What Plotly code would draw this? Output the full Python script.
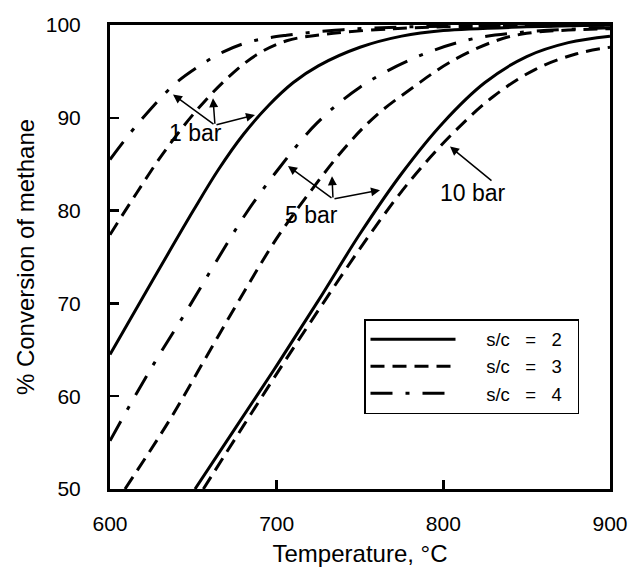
import plotly.graph_objects as go

# ---- data ----
# 1 bar
t_1bar_sc2 = [600, 625, 650, 665, 680, 695, 710, 725, 750, 775, 800, 850, 900]
y_1bar_sc2 = [64.5, 72.3, 80.0, 84.4, 88.2, 91.3, 93.8, 95.6, 97.6, 98.8, 99.4, 99.8, 100]
t_1bar_sc3 = [600, 616, 632, 651, 670, 688, 706, 734, 770, 800, 850, 900]
y_1bar_sc3 = [77.4, 81.9, 86.2, 90.6, 94.2, 96.8, 98.3, 99.1, 99.6, 99.8, 99.9, 100]
t_1bar_sc4 = [600, 616, 638, 652, 668, 684, 706, 740, 780, 850, 900]
y_1bar_sc4 = [85.5, 89.2, 93.5, 95.4, 97.1, 98.2, 98.9, 99.5, 99.8, 99.9, 100]
# 5 bar
t_5bar_sc2 = [651, 675, 700, 725, 750, 775, 800, 825, 850, 875, 900]
y_5bar_sc2 = [50, 56.5, 63.3, 70.3, 77.5, 84.0, 89.5, 93.8, 96.6, 98.1, 98.8]
t_5bar_sc3 = [609, 636, 657, 678, 700, 720, 742, 760, 782, 804, 830, 850, 900]
y_5bar_sc3 = [50, 57.5, 64.0, 70.5, 77.0, 82.0, 87.0, 90.3, 93.3, 96.0, 98.2, 99.1, 99.6]
t_5bar_sc4 = [600, 624, 647, 664, 682, 702, 724, 750, 782, 815, 846, 900]
y_5bar_sc4 = [55.2, 62.8, 69.5, 74.6, 79.8, 84.7, 89.4, 93.3, 96.4, 98.4, 99.2, 99.7]
# 10 bar
t_10bar_sc3 = [656, 680, 705, 730, 755, 780, 805, 830, 855, 880, 900]
y_10bar_sc3 = [50, 56.8, 63.8, 70.6, 77.2, 83.2, 88.2, 92.3, 95.2, 96.9, 97.6]

legend_names = ["s/c   =   2", "s/c   =   3", "s/c   =   4"]
x_ticks = [600, 700, 800, 900]
y_ticks = [50, 60, 70, 80, 90, 100]

# annotation labels and arrows: (label, label_x, label_y, tail_x, tail_y, heads)
labels = [
    ("1 bar", 651, 88.4, 663, 89.2, [(637.8, 92.5), (661.8, 92.1), (687, 90.3)]),
    ("5 bar", 721, 79.5, 733.8, 81.25, [(706.8, 84.8), (733.2, 83.7), (762, 82.2)]),
    ("10 bar", 818, 81.9, 829.8, 83.1, [(804, 86.9)]),
]

DASH = {"solid": "solid", "dash": "14px,8px", "dashdot": "22px,13px,4px,13px"}
FONT = "Liberation Sans, Arial, Helvetica, sans-serif"
PAD = "\u00a0" * 5

series = [
    (t_1bar_sc2, y_1bar_sc2, "solid", legend_names[0], True),
    (t_1bar_sc3, y_1bar_sc3, "dash", legend_names[1], True),
    (t_1bar_sc4, y_1bar_sc4, "dashdot", legend_names[2], True),
    (t_5bar_sc2, y_5bar_sc2, "solid", legend_names[0], False),
    (t_5bar_sc3, y_5bar_sc3, "dash", legend_names[1], False),
    (t_5bar_sc4, y_5bar_sc4, "dashdot", legend_names[2], False),
    (t_10bar_sc3, y_10bar_sc3, "dash", legend_names[1], False),
]

fig = go.Figure()
for t, y, style, name, show in series:
    fig.add_trace(go.Scatter(
        x=t, y=y, mode="lines", name=PAD + name + "\u00a0\u00a0", showlegend=show,
        line=dict(color="black", width=3, dash=DASH[style], shape="spline", smoothing=1.0),
        hoverinfo="skip",
    ))

annotations = []
for text, lx, ly, tx, ty, heads in labels:
    annotations.append(dict(x=lx, y=ly, xref="x", yref="y", text=text, showarrow=False,
                            font=dict(size=23, color="black", family=FONT)))
    for hx, hy in heads:
        annotations.append(dict(x=hx, y=hy, ax=tx, ay=ty, xref="x", yref="y",
                                axref="x", ayref="y", text="", showarrow=True,
                                arrowhead=2, arrowsize=1.2, arrowwidth=1.5,
                                arrowcolor="black", standoff=0, startstandoff=0))

fig.update_layout(
    width=632, height=571,
    margin=dict(l=110, r=22, t=25, b=82),
    paper_bgcolor="white", plot_bgcolor="white",
    font=dict(family=FONT, color="black", size=21),
    annotations=annotations,
    legend=dict(x=0.508, y=0.366, xanchor="left", yanchor="top",
                bordercolor="black", borderwidth=1.5, bgcolor="white",
                font=dict(size=18.5, family=FONT, color="black"),
                itemwidth=85, traceorder="normal"),
    xaxis=dict(range=[600, 900], tickvals=x_ticks, ticktext=[str(v) for v in x_ticks],
               showgrid=False, zeroline=False, showline=True, linecolor="black",
               linewidth=3, mirror=True, ticks="inside", ticklen=9, tickwidth=2.5,
               tickcolor="black", ticklabelstandoff=14, automargin=False,
               title=dict(text="Temperature, °C", font=dict(size=24), standoff=11)),
    yaxis=dict(range=[50, 100], tickvals=y_ticks, ticktext=[str(v) for v in y_ticks],
               showgrid=False, zeroline=False, showline=True, linecolor="black",
               linewidth=3, mirror=True, ticks="inside", ticklen=9, tickwidth=2.5,
               tickcolor="black", ticklabelstandoff=22, automargin=False,
               title=dict(text="% Conversion of methane", font=dict(size=24), standoff=5)),
)

fig.write_html(
    "out.html",
    config={"displayModeBar": False, "staticPlot": True},
    post_script="document.body.style.margin='0';document.body.style.overflow='hidden';",
)
